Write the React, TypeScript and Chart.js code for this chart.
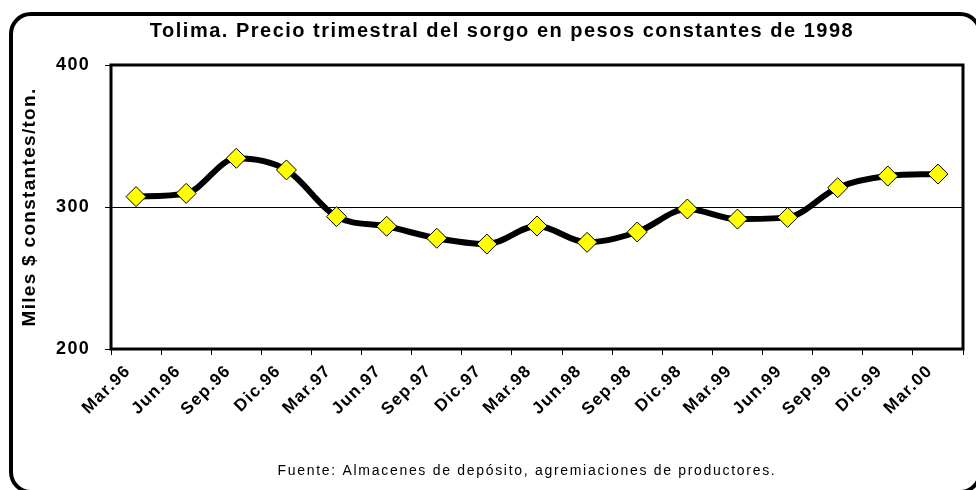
import React, { useEffect, useRef } from "react";
import { Chart, registerables } from "chart.js";

Chart.register(...registerables);

const categories = [
  "Mar.96", "Jun.96", "Sep.96", "Dic.96",
  "Mar.97", "Jun.97", "Sep.97", "Dic.97",
  "Mar.98", "Jun.98", "Sep.98", "Dic.98",
  "Mar.99", "Jun.99", "Sep.99", "Dic.99",
  "Mar.00",
];
const prices = [
  307.3, 309.6, 334.3, 326.1,
  293.2, 286.4, 278.0, 273.9,
  286.6, 275.1, 282.4, 298.6,
  291.5, 292.7, 313.6, 321.8,
  323.2,
];
const yTicks = [200, 300, 400];
const titleText = "Tolima. Precio trimestral del sorgo en pesos constantes de 1998";
const yTitleText = "Miles $ constantes/ton.";
const footerText = "Fuente: Almacenes de depósito, agremiaciones de productores.";

const FONT = "'Liberation Sans', Arial, sans-serif";
const SPACING = "1.3px";

function setSpacing(ctx: any, v: string) {
  try { ctx.letterSpacing = v; } catch (e) {}
}

const decorPlugin = {
  id: "decor",
  beforeLayout(chart: any) { setSpacing(chart.ctx, SPACING); },
  beforeDraw(chart: any) { setSpacing(chart.ctx, SPACING); },
  afterDraw(chart: any) {
    const { ctx, chartArea } = chart;
    ctx.save();
    // plot box
    ctx.strokeStyle = "#000";
    ctx.lineWidth = 3;
    ctx.strokeRect(chartArea.left, chartArea.top, chartArea.right - chartArea.left, chartArea.bottom - chartArea.top);
    // title
    ctx.fillStyle = "#000";
    ctx.textAlign = "center";
    ctx.textBaseline = "middle";
    setSpacing(ctx, "1.5px");
    ctx.font = `bold 20px ${FONT}`;
    ctx.fillText(titleText, 502, 31);
    // footer
    setSpacing(ctx, "1.7px");
    ctx.font = `14px ${FONT}`;
    ctx.fillText(footerText, 527, 471);
    // y title
    setSpacing(ctx, "1.3px");
    ctx.font = `bold 19px ${FONT}`;
    ctx.translate(30, (chartArea.top + chartArea.bottom) / 2);
    ctx.rotate(-Math.PI / 2);
    ctx.fillText(yTitleText, 0, 0);
    ctx.restore();
  },
};

export default function App() {
  const canvasRef = useRef<HTMLCanvasElement | null>(null);

  useEffect(() => {
    document.body.style.margin = "0";
    const canvas = canvasRef.current;
    if (!canvas) return;
    const chart = new Chart(canvas, {
      type: "line",
      data: {
        labels: categories,
        datasets: [
          {
            data: prices,
            borderColor: "#000",
            borderWidth: 6,
            tension: 0.4,
            cubicInterpolationMode: "monotone",
            pointStyle: "rectRot",
            pointRadius: 10,
            pointHoverRadius: 10,
            pointBackgroundColor: "#FFFF00",
            pointBorderColor: "#000",
            pointBorderWidth: 1,
          },
        ],
      },
      options: {
        animation: false,
        responsive: false,
        maintainAspectRatio: false,
        events: [],
        layout: { padding: { top: 65, right: 13, left: 0, bottom: 40 } },
        plugins: {
          legend: { display: false },
          title: { display: false },
          tooltip: { enabled: false },
        },
        scales: {
          x: {
            type: "category",
            offset: true,
            border: { display: false },
            grid: {
              offset: true,
              drawOnChartArea: false,
              drawTicks: true,
              tickLength: 6,
              tickColor: "#000",
              tickWidth: 1,
            },
            ticks: {
              autoSkip: false,
              maxRotation: 45,
              minRotation: 45,
              color: "#000",
              font: { family: FONT, size: 17, weight: "bold" },
              padding: 6,
              labelOffset: -8,
            },
            afterFit(scale: any) {
              scale.height = 101;
            },
          },
          y: {
            min: 200,
            max: 400,
            border: { display: false },
            afterBuildTicks(scale: any) {
              scale.ticks = yTicks.map((v) => ({ value: v }));
            },
            grid: {
              color: "#000",
              lineWidth: 1,
              drawTicks: true,
              tickLength: 6,
              tickColor: "#000",
            },
            ticks: {
              color: "#000",
              font: { family: FONT, size: 18, weight: "bold" },
              padding: 15,
            },
            afterFit(scale: any) {
              scale.width = 111;
            },
          },
        },
      },
      plugins: [decorPlugin],
    });
    return () => chart.destroy();
  }, []);

  return (
    <div style={{ position: "relative", width: 976, height: 490, overflow: "hidden", background: "#fff" }}>
      <canvas ref={canvasRef} width={976} height={490} style={{ position: "absolute", left: 0, top: 0 }} />
      <div
        style={{
          position: "absolute",
          left: 9,
          top: 12,
          width: 973,
          height: 482,
          border: "4px solid #000",
          borderRadius: 22,
          boxSizing: "border-box",
          pointerEvents: "none",
        }}
      />
    </div>
  );
}
